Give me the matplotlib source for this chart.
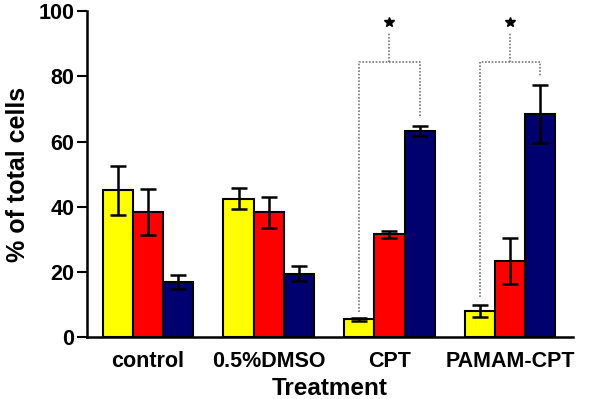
import numpy as np
import matplotlib
matplotlib.use("Agg")
import matplotlib.pyplot as plt

plt.rcParams['font.family'] = ['Liberation Sans', 'DejaVu Sans']
plt.rcParams['font.weight'] = 'bold'

groups = ['control', '0.5%DMSO', 'CPT', 'PAMAM-CPT']
yellow_vals = [45.0, 42.5, 5.5, 8.0]
yellow_err = [7.5, 3.3, 0.5, 1.8]
red_vals = [38.3, 38.3, 31.5, 23.3]
red_err = [7.0, 4.8, 1.2, 7.0]
blue_vals = [17.0, 19.5, 63.3, 68.5]
blue_err = [2.2, 2.2, 1.5, 9.0]

# significance brackets: (group, left bottom, right bottom)
brackets = [(2, 7.8, 67.2), (3, 12.4, 80.0)]
bracket_y = 84.3
bracket_top = 93.2
star_y = 96.8

fig = plt.figure(figsize=(6, 3.99), dpi=100)
ax = fig.add_axes([0.145, 0.155, 0.81, 0.817])

x = np.arange(len(groups))
w = 0.25
series = [(yellow_vals, yellow_err, '#ffff00'),
          (red_vals, red_err, '#ff0000'),
          (blue_vals, blue_err, '#00006e')]
for i, (vals, err, col) in enumerate(series):
    pos = x + (i - 1) * w
    ax.bar(pos, vals, w, color=col, edgecolor='black', linewidth=1.5, zorder=2)
    ax.errorbar(pos, vals, yerr=err, fmt='none', ecolor='black',
                elinewidth=1.8, capsize=5.5, capthick=1.8, zorder=3)

for g, lb, rb in brackets:
    xl, xr = g - w, g + w
    ax.plot([xl, xl, xr, xr], [lb, bracket_y, bracket_y, rb],
            ls=(0, (1, 1)), color='#777777', lw=1.2, zorder=1)
    ax.plot([g, g], [bracket_y, bracket_top], ls=(0, (1, 1)),
            color='#777777', lw=1.2, zorder=1)
    ax.plot(g, star_y, marker='*', color='black', ms=7, clip_on=False)

ax.set_xlim(-0.505, 3.52)
ax.set_ylim(0, 100)
ax.set_yticks([0, 20, 40, 60, 80, 100])
ax.set_xticks(x)
ax.set_xticklabels(groups, fontsize=15.5, fontweight='bold')
ax.tick_params(axis='x', length=0, pad=10)
ax.tick_params(axis='y', length=7, width=1.5, labelsize=15.5, pad=2)
for lab in ax.get_yticklabels():
    lab.set_fontweight('bold')

for s in ['top', 'right']:
    ax.spines[s].set_visible(False)
for s in ['left', 'bottom']:
    ax.spines[s].set_linewidth(1.8)

ax.set_xlabel('Treatment', fontsize=17.5, fontweight='bold', labelpad=3.5)
ax.set_ylabel('% of total cells', fontsize=18, fontweight='bold', labelpad=6)

fig.savefig('out.png', dpi=100)
